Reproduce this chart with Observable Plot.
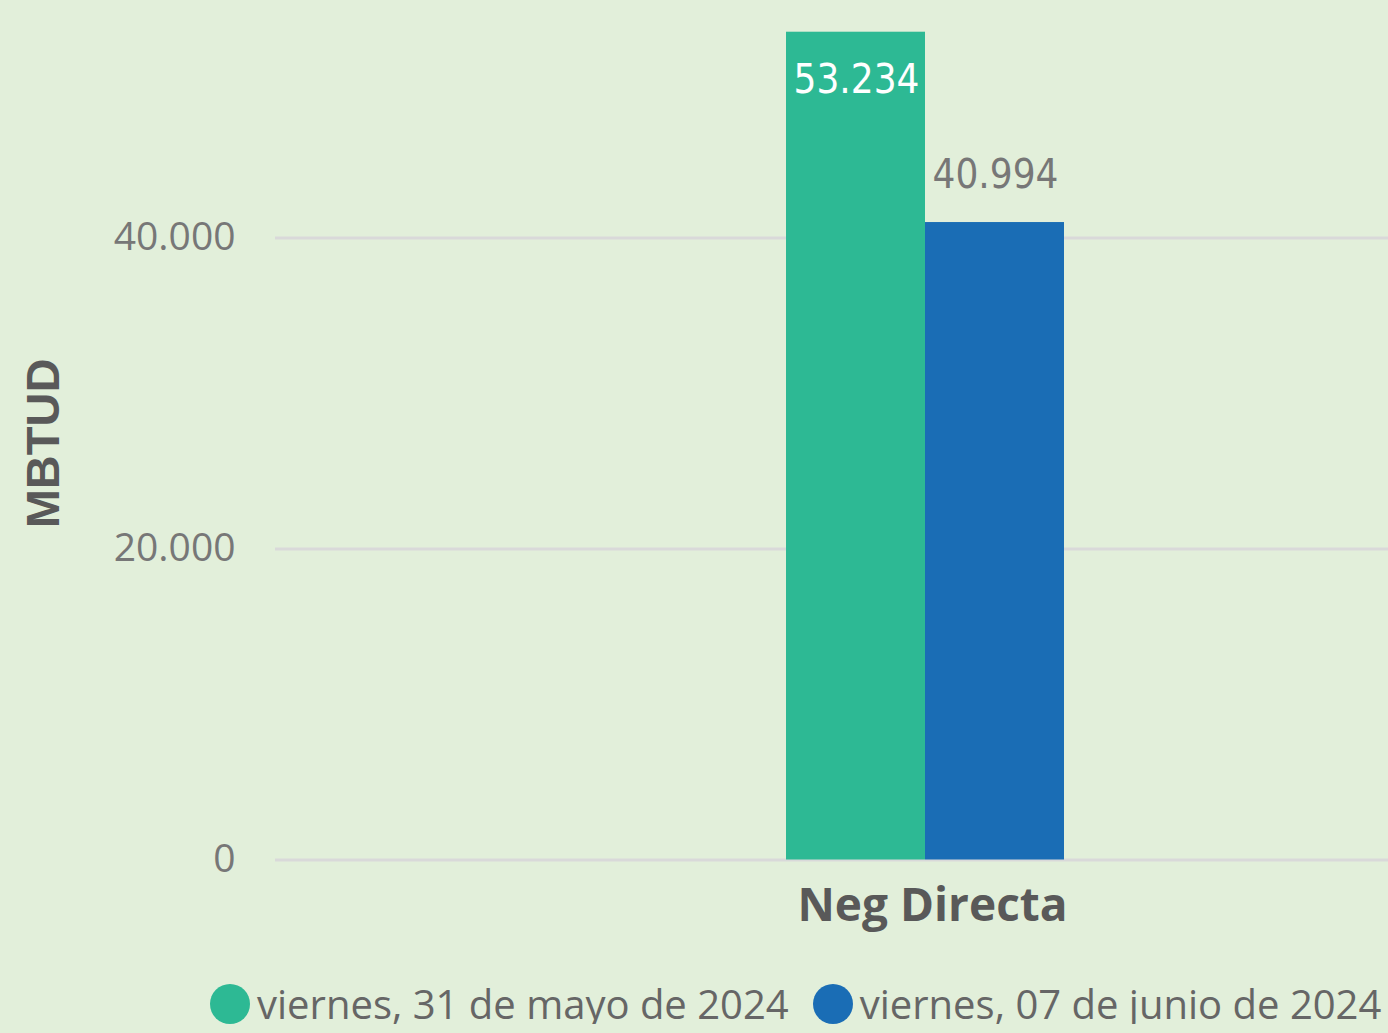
<!DOCTYPE html>
<html>
<head>
<meta charset="utf-8">
<script src="https://cdn.jsdelivr.net/npm/d3@7"></script>
<script src="https://cdn.jsdelivr.net/npm/@observablehq/plot@0.6"></script>
<style>
  html, body { margin: 0; padding: 0; background: #E2EFDA; overflow: hidden; }
  #chart svg { display: block; background: #E2EFDA; }
  .legend { display: flex; align-items: center; margin-left: 210px; margin-top: 9px; height: 40px;
            font-family: "Open Sans", "Noto Sans", sans-serif; font-size: 40px; line-height: 1; color: #666666; white-space: nowrap; }
  .legend .item { display: flex; align-items: center; margin-right: 24px; }
  .legend .sw { width: 40px; height: 40px; border-radius: 50%; margin-right: 7px; flex: none; }
</style>
</head>
<body>
<div id="chart"></div>
<div class="legend" id="legend"></div>
<script>
const categories = ["Neg Directa"];
const series = ["viernes, 31 de mayo de 2024", "viernes, 07 de junio de 2024"];
const values = [53234, 40994];
const colors = ["#2DB994", "#1A6DB5"];
const yTicks = [0, 20000, 40000];

const locale = d3.formatLocale({decimal: ",", thousands: ".", grouping: [3], currency: ["", "€"]});
const fmt = locale.format(",");

const data = series.map((s, i) => ({cat: categories[0], serie: s, value: values[i]}));

const W = 1388, H = 975;
const half = 139;

const chart = Plot.plot({
  width: W,
  height: H,
  marginLeft: 275,
  marginRight: 0,
  marginTop: 27,
  marginBottom: 116,
  style: {background: "#E2EFDA", overflow: "visible"},
  x: {type: "band", domain: categories, range: [275, 1575], padding: 0.6477},
  y: {domain: [0, 40000], range: [859.5, 237.5]},
  color: {domain: series, range: colors},
  marks: [
    Plot.ruleY(yTicks, {stroke: "#D9D9D9", strokeWidth: 3}),
    Plot.barY(data.filter(d => d.serie === series[0]), {x: "cat", y: "value", fill: "serie", insetRight: half}),
    Plot.barY(data.filter(d => d.serie === series[1]), {x: "cat", y: "value", fill: "serie", insetLeft: half}),
    Plot.text(data.filter(d => d.serie === series[0]), {
      x: "cat", y: "value", text: d => fmt(d.value), dx: -69, dy: 48,
      fill: "white", fontSize: 40, fontFamily: "DejaVu Sans Condensed, DejaVu Sans", fontWeight: 500
    }),
    Plot.text(data.filter(d => d.serie === series[1]), {
      x: "cat", y: "value", text: d => fmt(d.value), dx: 70, dy: -47,
      fill: "#777777", fontSize: 40, fontFamily: "DejaVu Sans Condensed, DejaVu Sans", fontWeight: 500
    }),
    Plot.axisY({
      ticks: yTicks, tickFormat: fmt, tickSize: 0, tickPadding: 40,
      fontSize: 39, fontFamily: "Open Sans, Noto Sans, sans-serif", color: "#777777",
      label: "MBTUD", labelAnchor: "center", labelArrow: "none", labelOffset: 250
    }),
    Plot.axisX({
      tickSize: 0, tickPadding: 29, fontSize: 46, fontWeight: "bold", dx: 7,
      fontFamily: "Open Sans, Noto Sans, sans-serif", color: "#595959", label: null
    })
  ]
});
document.getElementById("chart").appendChild(chart);

// style the y-axis label (MBTUD)
chart.querySelectorAll("text").forEach(t => {
  if (t.textContent === "MBTUD") {
    t.setAttribute("font-family", "Liberation Sans, Arial, sans-serif");
    t.style.fontFamily = "'Liberation Sans', Arial, sans-serif";
    t.setAttribute("font-weight", "bold");
    t.setAttribute("font-size", "47");
    t.setAttribute("fill", "#595959");
  }
});

const legend = document.getElementById("legend");
series.forEach((s, i) => {
  const item = document.createElement("div");
  item.className = "item";
  const sw = document.createElement("span");
  sw.className = "sw";
  sw.style.background = colors[i];
  const lab = document.createElement("span");
  lab.textContent = s;
  item.appendChild(sw);
  item.appendChild(lab);
  legend.appendChild(item);
});
</script>
</body>
</html>
